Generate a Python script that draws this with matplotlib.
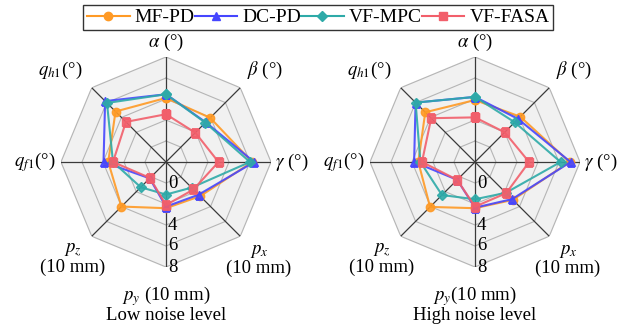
import numpy as np
import matplotlib
matplotlib.use("Agg")
import matplotlib.pyplot as plt
from matplotlib.lines import Line2D

plt.rcParams['font.family'] = ['Liberation Serif', 'DejaVu Serif']
plt.rcParams['mathtext.fontset'] = 'stix'

# axis order: clockwise from top
axis_names = ["alpha", "beta", "gamma", "px", "py", "pz", "qf1", "qh1"]
methods = ["MF-PD", "DC-PD", "VF-MPC", "VF-FASA"]

low_mf_pd = [4.1, 3.95, 6.2, 2.6, 2.4, 4.0, 3.5, 4.8]
low_dc_pd = [4.45, 3.35, 6.4, 2.4, 2.25, 0.2, 3.95, 6.2]
low_vf_mpc = [4.45, 3.3, 6.0, 1.45, 1.1, 1.4, 3.05, 5.95]
low_vf_fasa = [2.55, 1.95, 3.0, 1.7, 2.1, 0.15, 3.05, 3.4]

high_mf_pd = [3.9, 4.1, 7.0, 3.1, 2.4, 4.05, 3.4, 4.7]
high_dc_pd = [4.2, 3.8, 7.1, 3.0, 2.35, 0.4, 3.8, 6.0]
high_vf_mpc = [4.2, 3.35, 6.15, 2.15, 1.55, 2.45, 3.2, 6.0]
high_vf_fasa = [2.25, 2.0, 3.15, 2.2, 2.25, 0.4, 3.05, 3.9]

r_rings = [0, 2, 4, 6, 8]
r_labels = [0, 4, 6, 8]  # the 2 sits under the markers
r_min, r_max = -2, 8

colors = ["#ff9a25", "#4646ff", "#2eaaa8", "#f25f6b"]
markers = ["o", "^", "D", "s"]
msizes = [6, 6, 5, 5.5]
fs = 13.5

fig = plt.figure(figsize=(6.39, 3.33), dpi=100)

angles = np.arange(8) * 2 * np.pi / 8
closed = np.append(angles, angles[0])


def radar(ax, series, py_label, title):
    ax.set_theta_offset(np.pi / 2)
    ax.set_theta_direction(-1)
    ax.set_ylim(r_min, r_max)
    ax.grid(False)
    ax.set_xticks([])
    ax.set_yticks([])
    ax.spines['polar'].set_visible(False)
    ax.patch.set_alpha(0)

    # octagonal grid
    ax.fill(closed, [r_max] * 9, color="#f1f1f1", zorder=0)
    for r in r_rings:
        ax.plot(closed, [r] * 9, color="#b5b5b5", lw=0.8, zorder=1)
    for a in angles:
        ax.plot([a, a], [r_min, r_max], color="#3a3a3a", lw=0.9, zorder=1)

    for r in r_labels:
        ax.annotate(str(r), xy=(np.pi, r), xytext=(2, 0), textcoords='offset pixels',
                    ha='left', va='center', fontsize=fs, zorder=2)

    for vals, c, m, ms in zip(series, colors, markers, msizes):
        ax.plot(closed, vals + vals[:1], color=c, marker=m, ms=ms, lw=1.5,
                alpha=0.9, zorder=3)

    labels = [
        (r'$\alpha$ (°)', 0, 120),
        (r'$\beta$ (°)', 99, 92),
        (r'$\gamma$ (°)', 126, 0),
        (r'$q_{h1}$(°)', -106, 92),
        (r'$q_{f1}$(°)', -131, 0),
        ('$p_x$\n(10 mm)', 93, -98),
        ('$p_z$\n(10 mm)', -93, -97),
        (py_label, 0, -134),
        (title, 0, -154),
    ]
    for txt, dx, dy in labels:
        ax.annotate(txt, xy=(0, r_min), xytext=(dx, dy), textcoords='offset pixels',
                    ha='center', va='center', fontsize=fs, linespacing=1.0,
                    annotation_clip=False)


ax1 = fig.add_axes([61 / 639, 66 / 333, 210 / 639, 210 / 333], projection='polar')
radar(ax1, [low_mf_pd, low_dc_pd, low_vf_mpc, low_vf_fasa],
      '$p_y$ (10 mm)', 'Low noise level')

ax2 = fig.add_axes([370 / 639, 66 / 333, 210 / 639, 210 / 333], projection='polar')
radar(ax2, [high_mf_pd, high_dc_pd, high_vf_mpc, high_vf_fasa],
      '$p_y$(10 mm)', 'High noise level')

handles = [Line2D([], [], color=c, marker=m, ms=ms, lw=1.5)
           for c, m, ms in zip(colors, markers, msizes)]
leg = fig.legend(handles, methods, loc='upper center', bbox_to_anchor=(0.498, 0.985),
                 ncol=4, fontsize=14, frameon=True, fancybox=False, edgecolor='black',
                 columnspacing=0.0, handletextpad=0.25, handlelength=2.2,
                 borderpad=0.2, borderaxespad=0)
leg.get_frame().set_linewidth(1.0)

fig.savefig("out.png", dpi=100)
